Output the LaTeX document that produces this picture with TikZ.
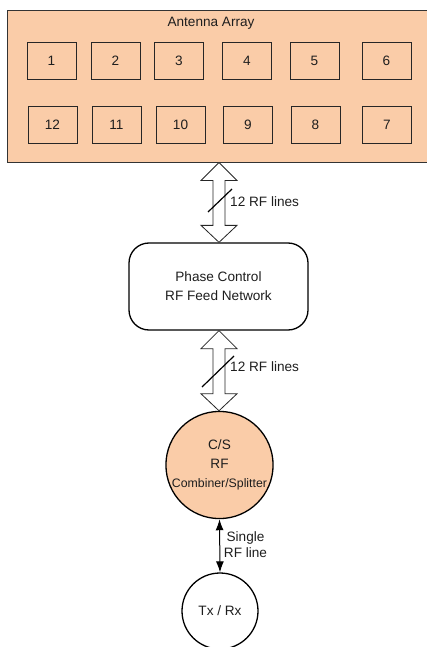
\documentclass[tikz,border=0pt]{standalone}
\usepackage{fontspec}
\setmainfont{Liberation Sans}
\usetikzlibrary{calc,arrows.meta}
\definecolor{peach}{RGB}{250,204,168}
\definecolor{txt}{RGB}{30,30,30}
\tikzset{
  elem/.style={draw=black!85, line width=0.8pt, minimum width=49pt, minimum height=37pt, inner sep=0pt, text=txt, text height=9.8pt, text depth=0pt},
  hollow/.style={draw=black!85, line width=0.8pt, fill=white, line join=miter},
  slash/.style={draw=black, line width=1.2pt},
  lbl/.style={text=txt, inner sep=0pt, font=\fontsize{13.6}{16}\selectfont},
}
\begin{document}
\begin{tikzpicture}[x=1pt,y=-1pt, font=\fontsize{13.6}{19}\selectfont]
\useasboundingbox (0,0) rectangle (426,647);
% antenna array
\node[draw=black!80, line width=0.9pt, fill=peach, minimum width=425pt, minimum height=152pt, inner sep=0pt] (ant) at (219.5,86) {};
\node[lbl] (antlabel) at (211,23) {Antenna Array};
\node[elem] (e1) at (51.5,60.5) {1};
\node[elem] (e2) at (115.5,60.5) {2};
\node[elem] (e3) at (179,60.5) {3};
\node[elem] (e4) at (247,60.5) {4};
\node[elem] (e5) at (314.5,60.5) {5};
\node[elem] (e6) at (386.5,60.5) {6};
\node[elem] (e12) at (52.5,124.5) {12};
\node[elem] (e11) at (116.5,124.5) {11};
\node[elem] (e10) at (180.5,124.5) {10};
\node[elem] (e9) at (248,124.5) {9};
\node[elem] (e8) at (315.5,124.5) {8};
\node[elem] (e7) at (387,124.5) {7};
% phase control
\node[draw=black, line width=1.3pt, rounded corners=20pt, minimum width=179pt, minimum height=87pt, align=center, text=txt, fill=white] (pcn) at (218.5,286.5) {Phase Control\\RF Feed Network};
% combiner
\node[draw=black, line width=1.3pt, circle, fill=peach, minimum size=104pt, inner sep=0pt, align=center, text=txt] (cs) at (219.5,465) {C/S\\RF\\{\fontsize{12.3}{19}\selectfont Combiner/Splitter}};
% tx rx
\node[draw=black, line width=1.3pt, circle, minimum size=76pt, inner sep=0pt, text=txt] (trx) at (220,611) {Tx / Rx};
% hollow double arrows
\coordinate (a1t) at (ant.south -| 219,0);
\coordinate (a1b) at (pcn.north -| 219,0);
\draw[hollow] (a1t) -- ++(18,18) -- ++(-12,0) -- ($(a1b)+(6,-17)$) -- ++(12,0) -- (a1b) -- ++(-18,-17) -- ++(12,0) -- ($(a1t)+(-6,18)$) -- ++(-12,0) -- cycle;
\draw[slash] (208,212) -- (232,189);
\node[lbl, anchor=west] (l1) at (230,202) {12 RF lines};
\coordinate (a2t) at (pcn.south -| 219,0);
\coordinate (a2b) at (cs.north -| 219,0);
\draw[hollow] (a2t) -- ++(18,18) -- ++(-12,0) -- ($(a2b)+(6,-17)$) -- ++(12,0) -- (a2b) -- ++(-18,-17) -- ++(12,0) -- ($(a2t)+(-6,18)$) -- ++(-12,0) -- cycle;
\draw[slash] (202,387) -- (234,356);
\node[lbl, anchor=west] (l2) at (230,367) {12 RF lines};
% single line
\draw[line width=1pt, {Latex[length=11pt,width=8pt]}-{Latex[length=11pt,width=8pt]}] (cs.south) -- (trx.north);
\node[lbl, align=center] (l3) at (245.5,545) {Single\\RF line};
\end{tikzpicture}
\end{document}
